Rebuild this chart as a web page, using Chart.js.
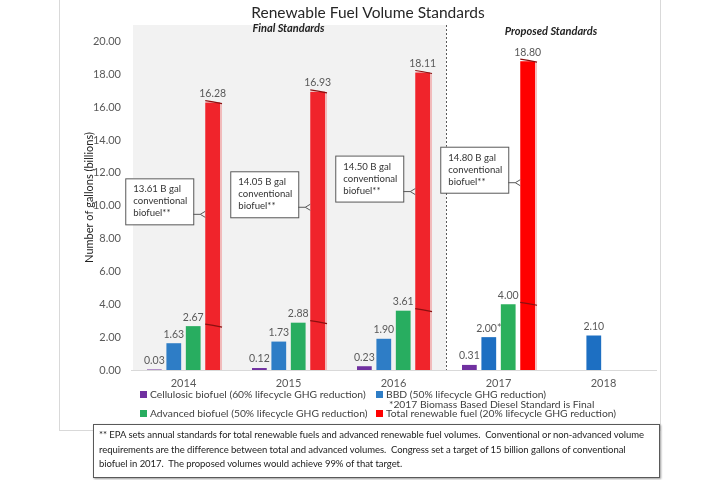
<!DOCTYPE html>
<html>
<head>
<meta charset="utf-8">
<script src="https://cdn.jsdelivr.net/npm/chart.js@4.4.1/dist/chart.umd.min.js"></script>
<style>
  body { margin: 0; background: #fff; font-family: Lato, "Open Sans", sans-serif; }
  #wrap { position: relative; width: 720px; height: 480px; overflow: hidden; }
  #frame { position: absolute; left: 59px; top: -2px; width: 600px; height: 431px; border: 1px solid #d9d9d9; }
  #chart { position: absolute; left: 0; top: 0; }
  .leg { position: absolute; font-size: 10.3px; line-height: 12px; color: #404040; white-space: nowrap; }
  .leg i { display: inline-block; width: 7px; height: 7px; margin-right: 3px; vertical-align: 0px; }
  #note { position: absolute; left: 93px; top: 424px; width: 555px; height: 46px; border: 1px solid #595959;
          box-shadow: 1px 1px 2px #999; background: #fff; font-size: 9.5px; line-height: 14.5px; color: #222;
          padding: 3px 5px; white-space: nowrap; letter-spacing: -0.05px; }
</style>
</head>
<body>
<div id="wrap">
  <div id="frame"></div>
  <canvas id="chart" width="720" height="480"></canvas>
  <div id="legend"></div>
  <div id="note">** EPA sets annual standards for total renewable fuels and advanced renewable fuel volumes.&nbsp; Conventional or non-advanced volume<br>requirements are the difference between total and advanced volumes.&nbsp; Congress set a target of 15 billion gallons of conventional<br>biofuel in 2017.&nbsp; The proposed volumes would achieve 99% of that target.</div>
</div>
<script>
const years = ['2014', '2015', '2016', '2017', '2018'];
const cellulosic = [0.03, 0.12, 0.23, 0.31, null];
const bbd = [1.63, 1.73, 1.90, 2.00, 2.10];
const advanced = [2.67, 2.88, 3.61, 4.00, null];
const totalFuel = [16.28, 16.93, 18.11, 18.80, null];
const conventional = [13.61, 14.05, 14.50, 14.80, null];
const seriesNames = [
  'Cellulosic biofuel (60% lifecycle GHG reduction)',
  'BBD (50% lifecycle GHG reduction)',
  'Advanced biofuel (50% lifecycle GHG reduction)',
  'Total renewable fuel (20% lifecycle GHG reduction)'
];
const finalCount = 3; // 2014-2016 are final, rest proposed

const purple = '#7030a0';
const blues = ['#2e7dc6', '#2e7dc6', '#2e7dc6', '#1d6fc2', '#1d6fc2'];
const greens = ['#28ad60', '#28ad60', '#28ad60', '#2bb05c', '#2bb05c'];
const reds = ['#f0242b', '#f0242b', '#f0242b', '#ff0000', '#ff0000'];

const decor = {
  id: 'decor',
  beforeDatasetsDraw(chart) {
    const { ctx, chartArea: a, scales: { x } } = chart;
    const split = (x.getPixelForValue(finalCount - 1) + x.getPixelForValue(finalCount)) / 2;
    ctx.save();
    ctx.fillStyle = '#f2f2f2';
    ctx.fillRect(a.left + 2, a.top, split - a.left - 2, a.bottom - a.top);
    ctx.restore();
  },
  afterDatasetsDraw(chart) {
    const { ctx, chartArea: a, scales: { x, y } } = chart;
    const split = (x.getPixelForValue(finalCount - 1) + x.getPixelForValue(finalCount)) / 2;
    ctx.save();
    // dotted divider
    ctx.strokeStyle = '#595959';
    ctx.lineWidth = 1;
    ctx.setLineDash([2, 2]);
    ctx.beginPath();
    ctx.moveTo(split + 0.5, a.top);
    ctx.lineTo(split + 0.5, a.bottom);
    ctx.stroke();
    ctx.setLineDash([]);

    // section headers
    ctx.fillStyle = '#222';
    ctx.font = 'italic bold 11px Lato, sans-serif';
    ctx.textAlign = 'center';
    ctx.textBaseline = 'middle';
    ctx.fillText('Final Standards', (a.left + split) / 2, a.top + 3);
    ctx.fillText('Proposed Standards', (split + a.right) / 2, a.top + 6);

    // red bar breaks + conventional callouts
    const redMeta = chart.getDatasetMeta(3);
    redMeta.data.forEach((bar, i) => {
      if (totalFuel[i] == null) return;
      const l = bar.x - bar.width / 2, r = bar.x + bar.width / 2;
      ctx.fillStyle = 'rgba(240,150,150,0.6)';
      ctx.fillRect(r, bar.y + 1, 2, bar.base - bar.y - 1);
      ctx.strokeStyle = '#8b1010';
      ctx.lineWidth = 1.2;
      [advanced[i], totalFuel[i]].forEach(v => {
        const by = y.getPixelForValue(v);
        ctx.beginPath();
        ctx.moveTo(l, by - 2);
        ctx.quadraticCurveTo(bar.x, by - 1, r + 2, by + 1);
        ctx.stroke();
      });

      const cy = y.getPixelForValue(advanced[i] + conventional[i] / 2);
      const boxR = l - 12, boxL = boxR - 68, boxB = cy + 10, boxT = boxB - 46;
      ctx.fillStyle = '#fff';
      ctx.fillRect(boxL, boxT, boxR - boxL, boxB - boxT);
      ctx.strokeStyle = '#595959';
      ctx.lineWidth = 1;
      ctx.strokeRect(boxL + 0.5, boxT + 0.5, boxR - boxL, boxB - boxT);
      ctx.beginPath();
      ctx.moveTo(boxR, cy);
      ctx.lineTo(l - 5, cy);
      ctx.lineTo(l, cy - 3);
      ctx.moveTo(l - 5, cy);
      ctx.lineTo(l, cy + 3);
      ctx.stroke();
      ctx.fillStyle = '#333';
      ctx.font = '9.6px Lato, sans-serif';
      ctx.textAlign = 'left';
      ctx.textBaseline = 'middle';
      [conventional[i].toFixed(2) + ' B gal', 'conventional', 'biofuel**'].forEach((t, k) => {
        ctx.fillText(t, boxL + 8, boxT + 11 + k * 12);
      });
    });

    // value labels
    ctx.fillStyle = '#595959';
    ctx.font = '10.5px Lato, sans-serif';
    ctx.textAlign = 'center';
    ctx.textBaseline = 'middle';
    chart.data.datasets.forEach((ds, d) => {
      chart.getDatasetMeta(d).data.forEach((bar, i) => {
        const v = ds.data[i];
        if (v == null) return;
        const t = v.toFixed(2) + (d === 1 && i === 3 ? '*' : '');
        ctx.fillText(t, bar.x, bar.y - 9);
      });
    });
    ctx.restore();
  }
};

const ds = (label, data, color) => ({
  label, data, backgroundColor: color,
  categoryPercentage: 0.74, barPercentage: 0.76
});

new Chart(document.getElementById('chart').getContext('2d'), {
  type: 'bar',
  data: {
    labels: years,
    datasets: [
      ds(seriesNames[0], cellulosic, purple),
      ds(seriesNames[1], bbd, blues),
      ds(seriesNames[2], advanced, greens),
      ds(seriesNames[3], totalFuel, reds)
    ]
  },
  options: {
    responsive: false,
    animation: false,
    layout: { padding: { left: 80, right: 64, bottom: 88, top: 0 } },
    scales: {
      x: {
        grid: { display: false, drawTicks: false },
        border: { color: '#d9d9d9' },
        ticks: { color: '#595959', font: { family: 'Lato', size: 11 }, padding: 7 },
        afterFit: s => { s.height = 22; }
      },
      y: {
        min: 0, max: 21,
        grid: { display: false, drawTicks: false },
        border: { display: false },
        ticks: {
          stepSize: 2, includeBounds: false, padding: 10,
          color: '#595959', font: { family: 'Lato', size: 11 },
          callback: v => (v % 2 === 0 ? v.toFixed(2) : '')
        },
        title: { display: true, text: 'Number of gallons (billions)', color: '#222',
                 font: { family: 'Lato', size: 11 }, padding: { top: 3, bottom: 0 } },
        afterFit: s => { s.width = 51; }
      }
    },
    plugins: {
      legend: { display: false },
      tooltip: { enabled: false },
      title: {
        display: true, text: 'Renewable Fuel Volume Standards', color: '#262626',
        font: { family: 'Lato', size: 15.5, weight: 'normal' }, padding: { top: 4, bottom: 2.4 }
      }
    }
  },
  plugins: [decor]
});

// legend laid out in two columns like the original
const legendItems = [
  { name: seriesNames[0], color: purple, x: 140, y: 388 },
  { name: seriesNames[1], color: blues[0], x: 376, y: 388 },
  { name: '*2017 Biomass Based Diesel Standard is Final', color: null, x: 389, y: 398 },
  { name: seriesNames[2], color: greens[0], x: 140, y: 407 },
  { name: seriesNames[3], color: reds[3], x: 376, y: 407 }
];
const legend = document.getElementById('legend');
legendItems.forEach(it => {
  const el = document.createElement('div');
  el.className = 'leg';
  el.style.left = it.x + 'px';
  el.style.top = it.y + 'px';
  el.innerHTML = (it.color ? '<i style="background:' + it.color + '"></i>' : '') + it.name;
  legend.appendChild(el);
});
</script>
</body>
</html>
